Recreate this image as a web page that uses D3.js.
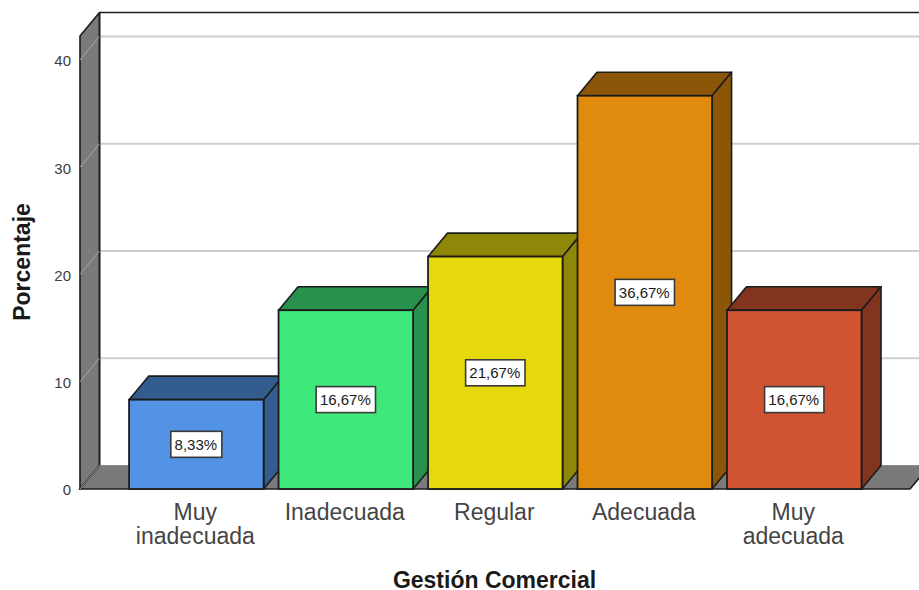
<!DOCTYPE html>
<html><head><meta charset="utf-8">
<script src="https://cdn.jsdelivr.net/npm/d3@7/dist/d3.min.js"></script>
<style>html,body{margin:0;padding:0;background:#fff;overflow:hidden}text{font-family:"Liberation Sans",Arial,sans-serif}</style>
</head><body><svg id="c" width="919" height="590"></svg>
<script>
const categories=[["Muy","inadecuada"],["Inadecuada"],["Regular"],["Adecuada"],["Muy","adecuada"]];
const values=[8.33,16.67,21.67,36.67,16.67];
const labels=["8,33%","16,67%","21,67%","36,67%","16,67%"];
const frontColors=["#5293e6","#3ee87b","#e5d80b","#e08a0e","#d05432"];
const topColors=["#335c8f","#27914d","#8f8707","#8c5608","#82341f"];
const tickValues=[0,10,20,30,40];
const xTitle="Gestión Comercial", yTitle="Porcentaje";

const svg=d3.select("#c");
const dx=19.5,dy=23.5,left=80,right=910,base=489;
const y=d3.scaleLinear().domain([0,40]).range([base,60]);
const keys=categories.map((c,i)=>i);
const x=d3.scaleBand().domain(keys).range([121.6,869]).paddingInner(.1).paddingOuter(.05);
const topV=y.invert(36);
const line="#1c1c1c", wall="#7a7a7a", grid="#cfcfcf";
const pts=a=>a.map(p=>p.join(",")).join(" ");

// back gridlines
svg.append("g").selectAll("line").data(tickValues.slice(1)).join("line")
 .attr("x1",left+dx).attr("x2",919).attr("y1",d=>y(d)-dy).attr("y2",d=>y(d)-dy)
 .attr("stroke",grid).attr("stroke-width",2);
// frame top and back edge
svg.append("line").attr("x1",left+dx).attr("x2",919).attr("y1",y(topV)-dy).attr("y2",y(topV)-dy).attr("stroke",line).attr("stroke-width",1.6);
// left wall
svg.append("polygon").attr("points",pts([[left,base],[left,y(topV)],[left+dx,y(topV)-dy],[left+dx,base-dy]]))
 .attr("fill",wall).attr("stroke",line).attr("stroke-width",1.6).attr("stroke-linejoin","round");
// floor
svg.append("polygon").attr("points",pts([[left,base],[left+dx,base-dy],[right+dx,base-dy],[right,base]]))
 .attr("fill",wall);
svg.append("path").attr("d",`M${left+dx},${base-dy}L${left},${base}L${right},${base}L${right+dx},${base-dy}`)
 .attr("fill","none").attr("stroke",line).attr("stroke-width",1.6);
svg.append("line").attr("x1",left+dx).attr("x2",left+dx).attr("y1",base-dy).attr("y2",y(topV)-dy).attr("stroke",line).attr("stroke-width",1.6);
svg.append("line").attr("x1",left+dx).attr("x2",919).attr("y1",base-dy).attr("y2",base-dy).attr("stroke","#8a8a8a").attr("stroke-width",1);
// wall gridlines
svg.append("g").selectAll("line").data(tickValues).join("line")
 .attr("x1",left).attr("x2",left+dx).attr("y1",d=>y(d)).attr("y2",d=>y(d)-dy)
 .attr("stroke","#a8a8a8").attr("stroke-width",1);

// bars
const bars=svg.append("g").selectAll("g").data(values).join("g");
bars.append("polygon").attr("points",(d,i)=>{const a=x(i),b=a+x.bandwidth();return pts([[a,y(d)],[a+dx,y(d)-dy],[b+dx,y(d)-dy],[b,y(d)]]);})
 .attr("fill",(d,i)=>topColors[i]).attr("stroke",line).attr("stroke-width",1.6).attr("stroke-linejoin","round");
bars.append("polygon").attr("points",(d,i)=>{const b=x(i)+x.bandwidth();return pts([[b,y(d)],[b+dx,y(d)-dy],[b+dx,base-dy],[b,base]]);})
 .attr("fill",(d,i)=>topColors[i]).attr("stroke",line).attr("stroke-width",1.6).attr("stroke-linejoin","round");
bars.append("rect").attr("x",(d,i)=>x(i)).attr("y",d=>y(d)).attr("width",x.bandwidth()).attr("height",d=>base-y(d))
 .attr("fill",(d,i)=>frontColors[i]).attr("stroke",line).attr("stroke-width",1.8);
// value labels
bars.each(function(d,i){
  const g=d3.select(this),cx=x(i)+x.bandwidth()/2,cy=(y(d)+base)/2;
  const r=g.append("rect").attr("fill","#fff").attr("stroke","#3a3a3a").attr("stroke-width",1.6);
  const t=g.append("text").attr("x",cx-.5).attr("y",cy+5.2).attr("text-anchor","middle").attr("font-size",15).attr("fill","#1a1a1a").text(labels[i]);
  const w=t.node().getComputedTextLength()+8.5;
  r.attr("x",cx-w/2).attr("y",cy-13).attr("width",w).attr("height",26);
});

// y axis
const ax=svg.append("g").attr("transform",`translate(${left},1)`).call(d3.axisLeft(y).tickValues(tickValues).tickSize(0).tickPadding(9));
ax.select(".domain").remove();
ax.selectAll("text").attr("font-size",15).attr("fill","#3d3d3d").style("font-family",'"Liberation Sans",Arial,sans-serif');

// category labels
const xl=svg.append("g").selectAll("text").data(categories).join("text")
 .attr("text-anchor","middle").attr("font-size",23).attr("fill","#444").attr("y",520);
xl.selectAll("tspan").data((c,i)=>c.map(s=>({s,i}))).join("tspan")
 .attr("x",d=>x(d.i)+x.bandwidth()/2-1).attr("dy",(d,j)=>j?23.5:0).text(d=>d.s);

// titles
svg.append("text").attr("x",494.5).attr("y",588).attr("text-anchor","middle").attr("font-size",23).attr("font-weight","bold").attr("fill","#1a1a1a").text(xTitle);
svg.append("text").attr("transform","translate(30,262) rotate(-90)").attr("text-anchor","middle").attr("font-size",23).attr("font-weight","bold").attr("fill","#1a1a1a").text(yTitle);
</script></body></html>
